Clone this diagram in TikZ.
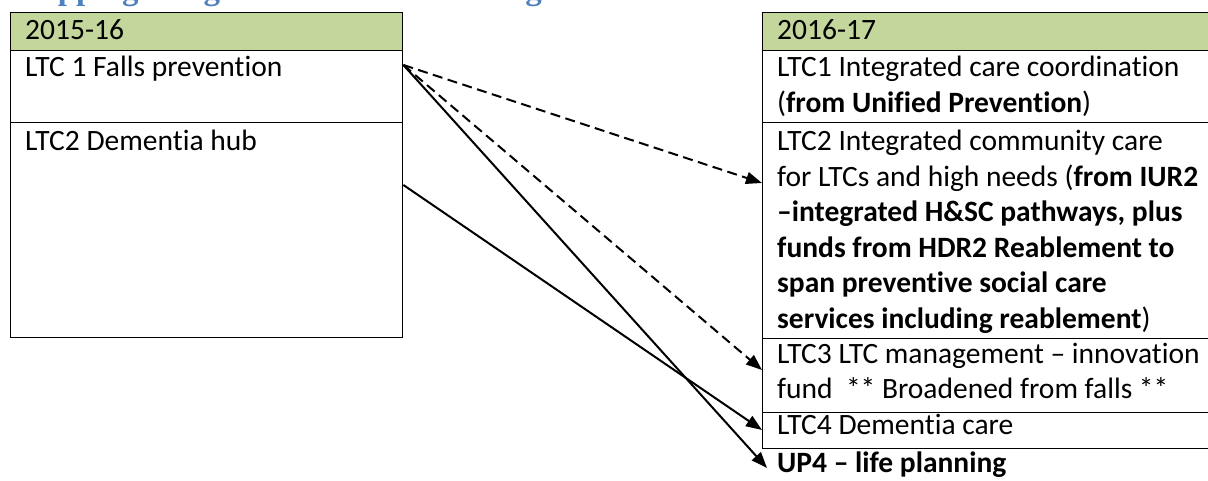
\documentclass[tikz,border=0pt]{standalone}
\usepackage{fontspec}
\setmainfont{Carlito}[Ligatures=NoCommon]
\newfontfamily\headfont{Liberation Serif}
\usetikzlibrary{arrows.meta,calc}
\definecolor{headgreen}{HTML}{C3D69B}
\definecolor{titleblue}{HTML}{4F81BD}
\newcommand\celllines[1]{\begin{tabular}[t]{@{}l@{}}#1\end{tabular}}
\tikzset{
  cell/.style={draw=black, line width=1.4pt, rectangle, inner sep=0pt, anchor=north west},
  headcell/.style={cell, fill=headgreen},
  celltext/.style={anchor=base west, inner sep=0pt, font=\fontsize{29.5}{35.5}\selectfont},
  link/.style={line width=2pt, -{Triangle[length=16pt,width=12pt]}},
  dashlink/.style={link, dash pattern=on 10pt off 5.5pt},
}
\begin{document}
\begin{tikzpicture}[x=1pt, y=-1pt]
\useasboundingbox (0,0) rectangle (1208,481);
\clip (0,0) rectangle (1208,481);

% heading of the page, running off the top edge
\node[anchor=base west, inner sep=0pt, text=titleblue,
      font=\headfont\bfseries\fontsize{33}{35}\selectfont] (title) at (10,0)
  {Mapping Long term conditions changes from 2015-16 to 2016-17};

% 2015-16 table
\node[headcell, minimum width=392pt, minimum height=38pt] (lh) at (10,12) {};
\node[cell, minimum width=392pt, minimum height=72pt] (l1) at (10,50) {};
\node[cell, minimum width=392pt, minimum height=215pt] (l2) at (10,122) {};

\node[celltext] (lht) at (25,40) {2015-16};
\node[celltext] (l1t) at (25,77) {LTC 1 Falls prevention};
\node[celltext] (l2t) at (25,151) {LTC2 Dementia hub};

% 2016-17 table
\node[headcell, minimum width=460pt, minimum height=38pt] (rh) at (762,12) {};
\node[cell, minimum width=460pt, minimum height=72pt] (r1) at (762,50) {};
\node[cell, minimum width=460pt, minimum height=216pt] (r2) at (762,122) {};
\node[cell, minimum width=460pt, minimum height=74pt] (r3) at (762,338) {};
\node[cell, minimum width=460pt, minimum height=36pt] (r4) at (762,412) {};

\node[celltext] (rht) at (777,40) {2016-17};
\node[celltext] (r1t) at (777,77) {\celllines{LTC1 Integrated care coordination\\
  (\textbf{from Unified Prevention})}};
\node[celltext] (r2t) at (777,151) {\celllines{LTC2 Integrated community care\\
  for LTCs and high needs (\textbf{from IUR2}\\
  \textbf{–integrated H\&SC pathways, plus}\\
  \textbf{funds from HDR2 Reablement to}\\
  \textbf{span preventive social care}\\
  \textbf{services including reablement})}};
\node[celltext] (r3t) at (777,363) {\celllines{LTC3 LTC management – innovation\\
  fund\ \ ** Broadened from falls **}};
\node[celltext] (r4t) at (777,434) {LTC4 Dementia care};
\node[celltext] (up4) at (777,472) {\textbf{UP4 – life planning}};

% connector ends
\coordinate (s1) at ($(l1.north east)+(0,15)$);
\coordinate (s2) at ($(l2.north east)+(0,63)$);
\coordinate (t2) at ($(r2.north west)+(0,61)$);
\coordinate (t3) at ($(r3.north west)+(0,32)$);
\coordinate (t4) at ($(r4.north west)+(0,18)$);
\coordinate (t5) at ($(up4.base west)+(-10,-4)$);

\draw[dashlink] (s1) -- (t2);
\draw[dashlink] (s1) -- (t3);
\draw[link] (s1) -- (t5);
\draw[link] (s2) -- (t4);
\end{tikzpicture}
\end{document}
